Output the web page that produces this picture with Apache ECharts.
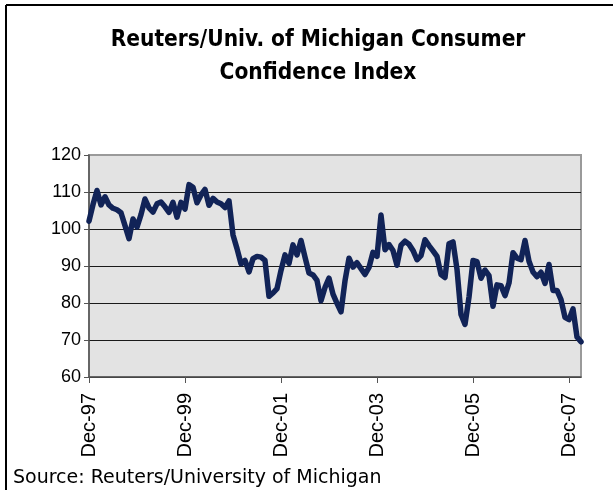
<!DOCTYPE html>
<html>
<head>
<meta charset="utf-8">
<script src="https://cdn.jsdelivr.net/npm/echarts@6/dist/echarts.min.js"></script>
<style>
  html, body { margin: 0; padding: 0; background: #fff; }
  #chart { width: 613px; height: 490px; }
</style>
</head>
<body>
<div id="chart"></div>
<script>
// monthly index, Dec-97 .. Mar-08
var monthNames = ['Jan', 'Feb', 'Mar', 'Apr', 'May', 'Jun', 'Jul', 'Aug', 'Sep', 'Oct', 'Nov', 'Dec'];
var sentiment = [
  102.1,
  106.6, 110.4, 106.5, 108.7, 106.5, 105.6, 105.2, 104.4, 100.9, 97.4, 102.7, 100.5,
  103.9, 108.1, 105.7, 104.6, 106.8, 107.3, 106.0, 104.5, 107.2, 103.2, 107.2, 105.4,
  112.0, 111.3, 107.1, 109.2, 110.7, 106.4, 108.3, 107.3, 106.8, 105.8, 107.6, 98.4,
  94.7, 90.6, 91.5, 88.4, 92.0, 92.6, 92.4, 91.5, 81.8, 82.7, 83.9, 88.8,
  93.0, 90.7, 95.7, 93.0, 96.9, 92.4, 88.1, 87.6, 86.1, 80.6, 84.2, 86.7,
  82.4, 79.9, 77.6, 86.0, 92.1, 89.7, 90.9, 89.3, 87.7, 89.6, 93.7, 92.6,
  103.8, 94.4, 95.8, 94.2, 90.2, 95.6, 96.7, 95.9, 94.2, 91.7, 92.8, 97.1,
  95.5, 94.1, 92.6, 87.7, 86.9, 96.0, 96.5, 89.1, 76.9, 74.2, 81.6, 91.5,
  91.2, 86.7, 88.9, 87.4, 79.1, 84.9, 84.7, 82.0, 85.4, 93.6, 92.1, 91.7,
  96.9, 91.3, 88.4, 87.1, 88.3, 85.3, 90.4, 83.4, 83.4, 80.9, 76.1, 75.5,
  78.4, 70.8, 69.5
];
var yTicks = [60, 70, 80, 90, 100, 110, 120];

// category labels Dec-97, Jan-98, ...
var months = [];
for (var i = 0; i < sentiment.length; i++) {
  var m = (11 + i) % 12;
  var yr = 97 + Math.floor((11 + i) / 12);
  months.push(monthNames[m] + '-' + String(yr % 100).padStart(2, '0'));
}

var chart = echarts.init(document.getElementById('chart'));

var option = {
  animation: false,
  backgroundColor: '#fff',
  grid: {
    left: 89,
    right: 32,
    top: 155,
    bottom: 113,
    show: true,
    backgroundColor: '#e3e3e3',
    borderColor: '#9a9a9a',
    borderWidth: 2
  },
  xAxis: {
    type: 'category',
    data: months,
    boundaryGap: false,
    axisLine: { lineStyle: { color: '#555', width: 1.5 } },
    axisTick: { show: true, interval: 23, length: 6, lineStyle: { color: '#555' } },
    axisLabel: {
      interval: 23,
      rotate: 90,
      margin: 16,
      color: '#000',
      fontSize: 20,
      fontFamily: 'Liberation Sans, Arial, sans-serif'
    },
    splitLine: { show: false }
  },
  yAxis: {
    type: 'value',
    min: yTicks[0],
    max: yTicks[yTicks.length - 1],
    interval: 10,
    axisLine: { show: true, lineStyle: { color: '#555', width: 1.5 } },
    axisTick: { show: true, length: 5, lineStyle: { color: '#555' } },
    axisLabel: {
      margin: 8,
      color: '#000',
      fontSize: 18,
      fontFamily: 'Liberation Sans, Arial, sans-serif'
    },
    splitLine: { show: true, showMaxLine: false, lineStyle: { color: '#1a1a1a', width: 1 } }
  },
  series: [{
    type: 'line',
    data: sentiment,
    symbol: 'none',
    lineStyle: { color: '#112357', width: 5.5, join: 'round', cap: 'round' }
  }],
  graphic: [
    {
      type: 'line',
      shape: { x1: 6, y1: 5, x2: 613, y2: 5 },
      style: { stroke: '#000', lineWidth: 2 }
    },
    {
      type: 'line',
      shape: { x1: 6, y1: 5, x2: 6, y2: 490 },
      style: { stroke: '#000', lineWidth: 2 }
    },
    {
      type: 'text',
      x: 318,
      y: 57,
      style: {
        text: 'Reuters/Univ. of Michigan Consumer\nConfidence Index',
        align: 'center',
        verticalAlign: 'middle',
        lineHeight: 33,
        fontSize: 22.5,
        fontWeight: 'bold',
        fontFamily: 'DejaVu Sans Condensed, DejaVu Sans, sans-serif',
        fill: '#000'
      }
    },
    {
      type: 'text',
      x: 13,
      y: 478,
      style: {
        text: 'Source: Reuters/University of Michigan',
        verticalAlign: 'middle',
        fontSize: 19,
        fontFamily: 'DejaVu Sans, sans-serif',
        fill: '#000'
      }
    }
  ]
};

chart.setOption(option);
</script>
</body>
</html>
